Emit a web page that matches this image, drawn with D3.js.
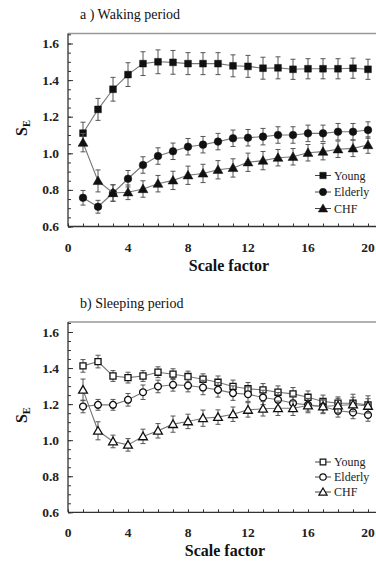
<!DOCTYPE html>
<html><head><meta charset="utf-8">
<script src="https://cdn.jsdelivr.net/npm/d3@7"></script>
</head><body style="margin:0;padding:0;background:#fff">
<svg id="c" width="376" height="562"></svg>
<script>
const scales = d3.range(1, 21);
const xTicks = [0, 4, 8, 12, 16, 20];
const yTicks = [0.6, 0.8, 1.0, 1.2, 1.4, 1.6];
const seriesNames = ["Young", "Elderly", "CHF"];

// a) Waking period
const wakeYoung   = [1.11,1.24,1.35,1.43,1.49,1.50,1.497,1.49,1.49,1.49,1.478,1.475,1.465,1.467,1.459,1.462,1.462,1.462,1.465,1.459];
const wakeYoungErr= [0.06,0.06,0.065,0.065,0.065,0.065,0.065,0.06,0.06,0.06,0.06,0.06,0.06,0.06,0.055,0.055,0.055,0.055,0.055,0.055];
const wakeElderly = [0.757,0.708,0.783,0.861,0.936,0.985,1.011,1.036,1.047,1.064,1.082,1.085,1.091,1.10,1.10,1.109,1.109,1.118,1.118,1.127];
const wakeElderlyErr=[0.04,0.035,0.045,0.045,0.045,0.045,0.045,0.045,0.045,0.045,0.045,0.045,0.045,0.045,0.045,0.045,0.045,0.045,0.045,0.045];
const wakeCHF     = [1.058,0.849,0.783,0.787,0.805,0.834,0.852,0.88,0.89,0.91,0.92,0.951,0.96,0.976,0.981,1.003,1.009,1.022,1.027,1.045];
const wakeCHFErr  = [0.05,0.06,0.045,0.04,0.045,0.045,0.05,0.05,0.05,0.05,0.05,0.05,0.05,0.045,0.045,0.045,0.045,0.045,0.045,0.045];

// b) Sleeping period
const sleepYoung   = [1.412,1.436,1.356,1.347,1.356,1.377,1.366,1.353,1.338,1.321,1.298,1.285,1.279,1.266,1.257,1.238,1.215,1.205,1.205,1.196];
const sleepYoungErr= [0.035,0.035,0.03,0.03,0.03,0.03,0.03,0.03,0.03,0.035,0.035,0.035,0.035,0.035,0.035,0.035,0.035,0.035,0.05,0.05];
const sleepElderly = [1.187,1.196,1.196,1.224,1.266,1.298,1.307,1.303,1.292,1.279,1.261,1.255,1.237,1.224,1.205,1.196,1.187,1.163,1.154,1.14];
const sleepElderlyErr=[0.035,0.03,0.03,0.035,0.04,0.035,0.035,0.035,0.04,0.04,0.04,0.04,0.04,0.04,0.04,0.035,0.035,0.035,0.035,0.035];
const sleepCHF     = [1.279,1.052,0.993,0.974,1.021,1.052,1.089,1.104,1.122,1.128,1.144,1.168,1.174,1.177,1.177,1.192,1.187,1.192,1.198,1.19];
const sleepCHFErr  = [0.06,0.05,0.035,0.035,0.04,0.04,0.045,0.04,0.045,0.04,0.04,0.04,0.04,0.04,0.04,0.04,0.04,0.04,0.04,0.04];

const panels = [
  {title: "a ) Waking period", filled: true, top: 33.5, bottom: 226.5, titleY: 19, labelX: 229, data: [wakeYoung, wakeElderly, wakeCHF], err: [wakeYoungErr, wakeElderlyErr, wakeCHFErr], legendY: 175.5},
  {title: "b) Sleeping period", filled: false, top: 322, bottom: 512.3, titleY: 308, labelX: 225, data: [sleepYoung, sleepElderly, sleepCHF], err: [sleepYoungErr, sleepElderlyErr, sleepCHFErr], legendY: 462}
];

const svg = d3.select("#c");
const x = d3.scaleLinear().domain([0, 20]).range([68, 368]);
const shapes = [d3.symbolSquare, d3.symbolCircle, d3.symbolTriangle];
const sizes = [46, 46, 42];

function txt(g) { return g.append("text").style("font-family", '"Liberation Serif"'); }

panels.forEach(p => {
  const g = svg.append("g");
  const yPix16 = p.top + 10;
  const y = d3.scaleLinear().domain([0.6, 1.6]).range([p.bottom, yPix16]);
  const yTopVal = y.invert(p.top);

  txt(g).attr("x", 80).attr("y", p.titleY).attr("font-size", 14).attr("fill", "#111").text(p.title);

  g.append("line").attr("x1", 68).attr("x2", 376).attr("y1", p.top).attr("y2", p.top)
    .attr("stroke", "#999").attr("stroke-width", 1.5);

  const yAxis = d3.axisRight(y).tickValues(d3.range(0.6, yTopVal, 0.05).map(v => +v.toFixed(2)))
    .tickSize(3).tickFormat("");
  const ya = g.append("g").attr("transform", "translate(68,0)").call(yAxis);
  ya.select(".domain").remove();
  ya.selectAll(".tick line").attr("stroke", "#333");
  ya.selectAll("text").remove();
  g.append("line").attr("x1", 68).attr("x2", 68).attr("y1", p.top).attr("y2", p.bottom).attr("stroke", "#333").attr("stroke-width", 1.3);
  const yMaj = d3.axisRight(y).tickValues(yTicks).tickSize(5).tickFormat("");
  const ym = g.append("g").attr("transform", "translate(68,0)").call(yMaj);
  ym.select(".domain").remove();
  ym.selectAll(".tick line").attr("stroke", "#333");
  ym.selectAll("text").remove();
  yTicks.forEach(d => txt(g)
    .attr("x", 59).attr("y", y(d) + 4.5).attr("text-anchor", "end")
    .attr("font-size", 13.5).attr("font-weight", "bold").attr("fill", "#222")
    .text(d.toFixed(1)));

  const xAxis = d3.axisTop(x).tickValues(d3.range(0, 21)).tickSize(3).tickFormat("");
  const xa = g.append("g").attr("transform", `translate(0,${p.bottom})`).call(xAxis);
  xa.select(".domain").remove();
  xa.selectAll(".tick line").attr("stroke", "#333");
  xa.selectAll("text").remove();
  g.append("line").attr("x1", 68).attr("x2", 376).attr("y1", p.bottom).attr("y2", p.bottom).attr("stroke", "#333").attr("stroke-width", 1.3);
  xTicks.forEach(d => txt(g)
    .attr("x", x(d)).attr("y", p.bottom + 25).attr("text-anchor", "middle")
    .attr("font-size", 13.5).attr("font-weight", "bold").attr("fill", "#222")
    .text(d));

  txt(g).attr("x", p.labelX).attr("y", p.bottom + 44).attr("text-anchor", "middle")
    .attr("font-size", 16).attr("font-weight", "bold").attr("fill", "#111").text("Scale factor");
  const ymid = (p.top + p.bottom) / 2 - 2;
  const lab = txt(g).attr("transform", `translate(27,${ymid}) rotate(-90)`)
    .attr("text-anchor", "middle").attr("font-size", 16).attr("font-weight", "bold").attr("fill", "#111");
  lab.append("tspan").text("S");
  lab.append("tspan").attr("font-size", 10.5).attr("dy", 3).text("E");

  const line = d3.line().x((d, i) => x(scales[i])).y(d => y(d));
  p.data.forEach((vals, si) => {
    const errs = p.err[si];
    g.append("path").attr("d", line(vals)).attr("fill", "none").attr("stroke", "#777").attr("stroke-width", 1.1);
    const eb = g.append("g");
    vals.forEach((v, i) => {
      const cx = x(scales[i]);
      eb.append("line").attr("x1", cx).attr("x2", cx).attr("y1", y(v - errs[i])).attr("y2", y(v + errs[i])).attr("stroke", "#555").attr("stroke-width", 1);
      [v - errs[i], v + errs[i]].forEach(e => eb.append("line").attr("x1", cx - 2.5).attr("x2", cx + 2.5).attr("y1", y(e)).attr("y2", y(e)).attr("stroke", "#555").attr("stroke-width", 1));
    });
    const sym = d3.symbol().type(shapes[si]).size(p.filled ? sizes[si] : sizes[si] * 0.8);
    g.selectAll(null).data(vals).enter().append("path")
      .attr("transform", (d, i) => `translate(${x(scales[i])},${y(d) + (si === 2 ? 0.8 : 0)})`)
      .attr("d", sym)
      .attr("fill", p.filled ? "#111" : "#fff")
      .attr("stroke", "#111").attr("stroke-width", p.filled ? 0.5 : 1.3);
  });

  seriesNames.forEach((name, si) => {
    const ly = p.legendY + si * (p.filled ? 16.5 : 15);
    g.append("line").attr("x1", 315).attr("x2", 331).attr("y1", ly).attr("y2", ly).attr("stroke", "#444").attr("stroke-width", 1);
    g.append("path").attr("transform", `translate(323,${ly + (si === 2 ? 0.8 : 0)})`)
      .attr("d", d3.symbol().type(shapes[si]).size(p.filled ? sizes[si] * 0.9 : sizes[si] * 0.7))
      .attr("fill", p.filled ? "#111" : "#fff").attr("stroke", "#111").attr("stroke-width", p.filled ? 0.5 : 1.2);
    txt(g).attr("x", 334).attr("y", ly + 4).attr("font-size", 12).attr("fill", "#222").text(name);
  });
});
</script>
</body></html>
